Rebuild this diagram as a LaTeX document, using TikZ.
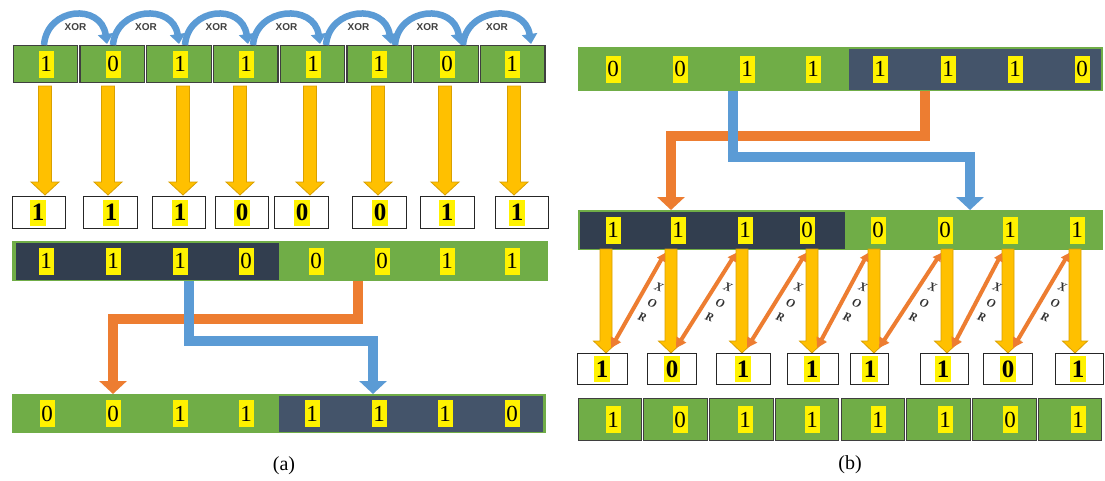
\documentclass[tikz,border=0pt]{standalone}
\usepackage{fontspec}
\setmainfont{Liberation Serif}
\setsansfont{Liberation Sans}
\usetikzlibrary{arrows.meta}
\definecolor{grn}{HTML}{70AD47}
\definecolor{navy}{HTML}{323E4F}
\definecolor{navyb}{HTML}{44546A}
\definecolor{gold}{HTML}{FFC000}
\definecolor{goldb}{HTML}{D9A000}
\definecolor{org}{HTML}{ED7D31}
\definecolor{blu}{HTML}{5B9BD5}
\definecolor{cellb}{HTML}{3F3F3F}
\newcommand\garrow[6]{%
  \filldraw[fill=gold, draw=goldb, line width=0.8pt, line join=miter]
    ({#1-#5},#2) -- ({#1+#5},#2) -- ({#1+#5},{#3-#6}) -- ({#1+#4},{#3-#6})
    -- (#1,#3) -- ({#1-#4},{#3-#6}) -- ({#1-#5},{#3-#6}) -- cycle;}
\tikzset{
  dig/.style={fill=yellow, inner sep=0pt, minimum width=15, minimum height=27,
    font=\fontsize{23}{23}\selectfont},
  bdig/.style={fill=yellow, inner sep=0pt, minimum width=16, minimum height=26,
    font=\fontsize{25}{25}\selectfont\bfseries},
  topcell/.style={draw=cellb, fill=grn, line width=1.2pt, inner sep=0pt},
  resbox/.style={draw=black!85, fill=white, line width=0.9pt, inner sep=0pt},
  xorarc/.style={draw=blu, line width=6.5pt, -{Triangle[width=15pt,length=10pt]}},
  xorlbl/.style={font=\sffamily\bfseries\fontsize{10}{10}\selectfont, text=black!75},
  opath/.style={draw=org, line width=10pt, line join=miter, -{Triangle[width=27pt,length=13pt]}},
  bpath/.style={draw=blu, line width=10pt, line join=miter, -{Triangle[width=27pt,length=13pt]}},
  diag/.style={draw=org, line width=4pt, {Triangle[width=11pt,length=10pt]}-{Triangle[width=9pt,length=8pt]}},
  xorit/.style={font=\itshape\bfseries\fontsize{12}{12}\selectfont, text=black!80, rotate=-20, inner sep=0pt},
  caption/.style={font=\fontsize{20}{20}\selectfont}
}
\begin{document}
\begin{tikzpicture}[x=1pt,y=-1pt]
\path[use as bounding box, fill=white] (0,0) rectangle (1105,480);

% ===================== (a) =====================
% top row of cells
\foreach \i in {0,...,7} {
  \node[topcell, minimum width=64.5, minimum height=37] (ltc\i) at ({45.4+66.75*\i},64) {};
}
\foreach \x/\v [count=\i] in {46/1,113/0,180/1,246/1,313/1,379/1,447/0,512/1} {
  \node[dig] (ltd\i) at (\x,64) {\v};
}
% XOR arcs
\foreach \s/\e in {44/107,113/179,185/248,253/320,326/391,395/460,463/531} {
  \draw[xorarc] (\s,45) .. controls ({\s+3},7) and ({\e-6},3) .. (\e,44);
  \node[xorlbl] at ({(\s+\e)/2},27) {XOR};
}
% gold arrows
\foreach \x in {45,108,183,240,310,378,445,514} {
  \garrow{\x}{86}{195}{14}{6.5}{13}
}
% result boxes
\foreach \c/\w/\dx/\v [count=\i] in {38.5/53/38/1,110/54/111/1,178.5/53/180/1,241.5/53/242/0,301/54/302/0,379/54/380/0,447/54/447/1,521.5/53/517/1} {
  \node[resbox, minimum width=\w, minimum height=32] (lb\i) at (\c,212) {};
  \node[bdig] (lbd\i) at (\dx,212.5) {\v};
}
% second row
\fill[grn] (12,241) rectangle (548,281);
\fill[navy] (16,243) rectangle (279,280);
\foreach \x/\v [count=\i] in {46/1,113/1,180/1,246/0,316/0,382/0,447/1,512/1} {
  \node[dig] (lrd\i) at (\x,261) {\v};
}
% bottom row
\fill[grn] (12,394) rectangle (546,433);
\fill[navyb] (279,395.5) rectangle (543,432);
\foreach \x/\v [count=\i] in {47/0,113/0,180/1,246/1,312/1,379/1,445/1,512/0} {
  \node[dig] (lbr\i) at (\x,413.5) {\v};
}
% swap paths
\coordinate (lo1) at (358,281); \coordinate (lo2) at (113,394);
\coordinate (lb1) at (189,281); \coordinate (lb2) at (373,394);
\draw[opath] (lo1) -- (358,319) -- (113,319) -- (lo2);
\draw[bpath] (lb1) -- (189,341) -- (373,341) -- (lb2);

\node[caption] (capa) at (284,466) {(a)};

% ===================== (b) =====================
% top row
\fill[grn] (578,47) rectangle (1103,91);
\fill[navyb] (849,48.5) rectangle (1101,90);
\foreach \x/\v [count=\i] in {613/0,680/0,747/1,813/1,880/1,948/1,1015/1,1082/0} {
  \node[dig] (rtd\i) at (\x,69) {\v};
}
% second row
\fill[grn] (578,210) rectangle (1103,250);
\fill[navy] (580,212) rectangle (845,249);
\foreach \x/\v [count=\i] in {613/1,678/1,745/1,807/0,878/0,945/0,1010/1,1077/1} {
  \node[dig] (rrd\i) at (\x,230) {\v};
}
% swap paths
\coordinate (ro1) at (925,91); \coordinate (ro2) at (671,210);
\coordinate (rb1) at (733,91); \coordinate (rb2) at (970,210);
\draw[opath] (ro1) -- (925,136) -- (671,136) -- (ro2);
\draw[bpath] (rb1) -- (733,157) -- (970,157) -- (rb2);

% gold arrows
\foreach \x in {606,671,742,812,874,947,1008,1075} {
  \garrow{\x}{249}{353}{12.5}{6}{12}
}
% XOR diagonals
\foreach \b/\t in {611/665,676/736,747/806,817/868,879/941,952/1002,1013/1069} {
  \draw[diag] (\b,348) -- (\t,253)
    node[xorit, pos=0.68, xshift=12] {X}
    node[xorit, pos=0.52, xshift=14] {O}
    node[xorit, pos=0.37, xshift=12] {R};
}
% result boxes
\foreach \c/\w/\dx/\v [count=\i] in {602/50/602/1,671.5/49/672/0,743/54/743/1,812.5/51/812/1,869/38/870/1,944/48/943/1,1007.5/49/1008/0,1079/48/1078/1} {
  \node[resbox, minimum width=\w, minimum height=31] (rb\i) at (\c,368.5) {};
  \node[bdig] (rbd\i) at (\dx,369) {\v};
}
% bottom row of cells
\foreach \i in {0,...,7} {
  \node[topcell, minimum width=63.5, minimum height=42] (rbc\i) at ({577+65.75*\i+32.875},419.5) {};
}
\foreach \x/\v [count=\i] in {613/1,680/0,745/1,812/1,878/1,945/1,1010/0,1078/1} {
  \node[dig] (rbr\i) at (\x,419.5) {\v};
}
\node[caption] (capb) at (850,465) {(b)};
\end{tikzpicture}
\end{document}
